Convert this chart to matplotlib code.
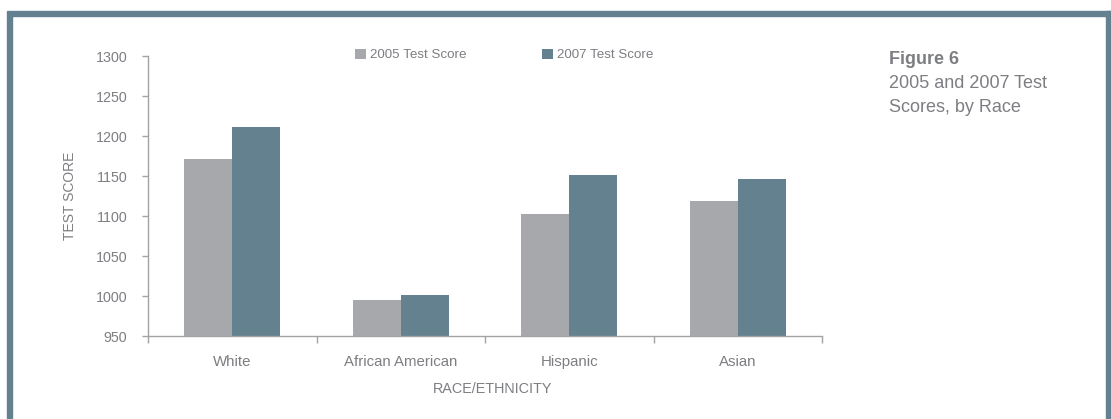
import matplotlib
matplotlib.use('Agg')
import matplotlib.pyplot as plt
import numpy as np
from matplotlib.patches import Rectangle

# test scores by race/ethnicity
categories = ['White', 'African American', 'Hispanic', 'Asian']
scores_2005 = [1171, 995, 1102, 1119]
scores_2007 = [1211, 1001, 1151, 1146]
series_labels = ['2005 Test Score', '2007 Test Score']
y_ticks = [950, 1000, 1050, 1100, 1150, 1200, 1250, 1300]

GRAY = '#a7a8ab'
SLATE = '#63818f'
TEXT = '#7d7e82'
AXIS = '#a3a3a3'

plt.rcParams['font.family'] = ['Liberation Sans', 'DejaVu Sans']

W, H = 1111, 419
fig = plt.figure(figsize=(W / 100, H / 100), dpi=100)
fig.patch.set_facecolor('white')

# frame around the panel (left, top, right; open at the bottom)
for x0, y0, w, h in [(7, 0, 5, 403), (7, 403, 1104, 5), (1106, 0, 5, 408)]:
    fig.patches.append(Rectangle((x0 / W, y0 / H), w / W, h / H,
                                 transform=fig.transFigure, color=SLATE, zorder=0))

ax = fig.add_axes([148 / W, 1 - 336 / H, 674 / W, 280 / H])
x = np.arange(len(categories))
bw = 0.285
ax.bar(x - bw / 2, scores_2005, bw, color=GRAY, label=series_labels[0], zorder=2)
ax.bar(x + bw / 2, scores_2007, bw, color=SLATE, label=series_labels[1], zorder=2)

ax.set_xlim(-0.5, len(categories) - 0.5)
ax.set_ylim(950, 1300)
ax.set_yticks(y_ticks)
ax.tick_params(axis='y', colors=AXIS, labelcolor=TEXT, labelsize=10.3, length=4, pad=11, width=1)

# category boundaries as ticks, names centred between them
ax.set_xticks(np.arange(len(categories) + 1) - 0.5)
ax.set_xticklabels([])
ax.tick_params(axis='x', which='major', colors=AXIS, length=5, width=1, direction='out')
ax.set_xticks(x, minor=True)
ax.set_xticklabels(categories, minor=True)
ax.tick_params(axis='x', which='minor', length=0, pad=14, labelsize=10.8, labelcolor=TEXT)

for s in ['top', 'right']:
    ax.spines[s].set_visible(False)
for s in ['left', 'bottom']:
    ax.spines[s].set_color(AXIS)
    ax.spines[s].set_linewidth(1)

ax.set_ylabel('TEST SCORE', color=TEXT, fontsize=10, labelpad=13)
fig.text(493 / W, 1 - 389 / H, 'RACE/ETHNICITY', color=TEXT, fontsize=10.4,
         ha='center', va='center')

leg = ax.legend(loc='center left', bbox_to_anchor=(355 / W, 1 - 55 / H),
                bbox_transform=fig.transFigure, ncol=2, frameon=False,
                fontsize=9.6, borderpad=0, borderaxespad=0,
                handlelength=0.82, handleheight=0.82, handletextpad=0.3,
                columnspacing=5.7)
for t in leg.get_texts():
    t.set_color(TEXT)

fig.text(889 / W, 1 - 60 / H, 'Figure 6', color=TEXT, fontsize=13,
         fontweight='bold', va='center')
fig.text(889 / W, 1 - 84 / H, '2005 and 2007 Test', color=TEXT, fontsize=13, va='center')
fig.text(889 / W, 1 - 107.5 / H, 'Scores, by Race', color=TEXT, fontsize=13, va='center')

fig.savefig('out.png', dpi=100)
